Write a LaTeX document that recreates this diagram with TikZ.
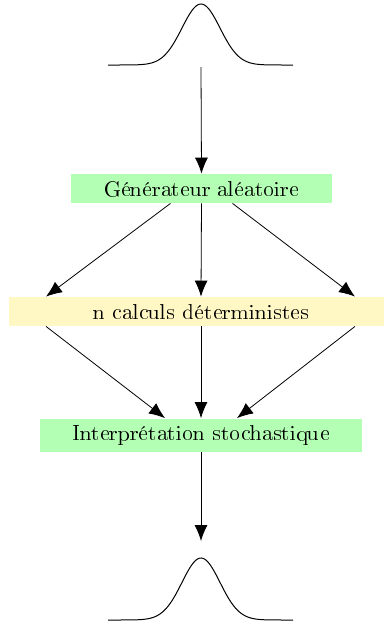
\documentclass[tikz,border=0pt]{standalone}
\usepackage[T1]{fontenc}
\usetikzlibrary{arrows.meta}

\definecolor{stepgreen}{RGB}{179,255,179}
\definecolor{stepyellow}{RGB}{255,247,196}

\begin{document}
\begin{tikzpicture}[
  x=0.5pt, y=-0.5pt,
  font=\fontsize{11}{13.5}\selectfont,
  stagebox/.style={
    rectangle, draw=none, inner sep=0pt, align=center
  },
  randbox/.style={stagebox, fill=stepgreen},
  detbox/.style={stagebox, fill=stepyellow},
  arrow/.style={-{Latex[length=8pt, width=6.5pt]}, black, line width=0.4pt},
  bell/.style={black, line width=0.5pt},
]
\useasboundingbox (0,0) rectangle (384,622);

% Input distribution (top)
\draw[bell] plot[domain=108:293, samples=120]
  (\x, {65 - 61*exp(-((\x-201)^2)/722)});
\coordinate (indist) at (201,67);

% Stages
\node[randbox, minimum width=130.5pt, minimum height=14.5pt] (gen) at (201.5,188.5)
  {Générateur aléatoire};
\node[detbox, minimum width=192pt, minimum height=14.5pt] (det) at (201,311.5)
  {n calculs déterministes};
\node[randbox, minimum width=161pt, minimum height=16.5pt] (interp) at (201,435)
  {Interprétation stochastique};

% Output distribution (bottom)
\coordinate (outdist) at (201,541);
\draw[bell] plot[domain=108:293, samples=120]
  (\x, {620 - 62*exp(-((\x-201)^2)/722)});

% Connections
\draw[arrow] (indist) -- (gen.north);
\draw[arrow] ([xshift=-15.5pt]gen.south) -- ([xshift=-77.5pt]det.north);
\draw[arrow] (gen.south) -- (det.north);
\draw[arrow] ([xshift=15.5pt]gen.south) -- ([xshift=77pt]det.north);
\draw[arrow] ([xshift=-77.5pt]det.south) -- ([xshift=-18pt]interp.north);
\draw[arrow] (det.south) -- (interp.north);
\draw[arrow] ([xshift=77pt]det.south) -- ([xshift=18pt]interp.north);
\draw[arrow] (interp.south) -- (outdist);

\end{tikzpicture}
\end{document}
